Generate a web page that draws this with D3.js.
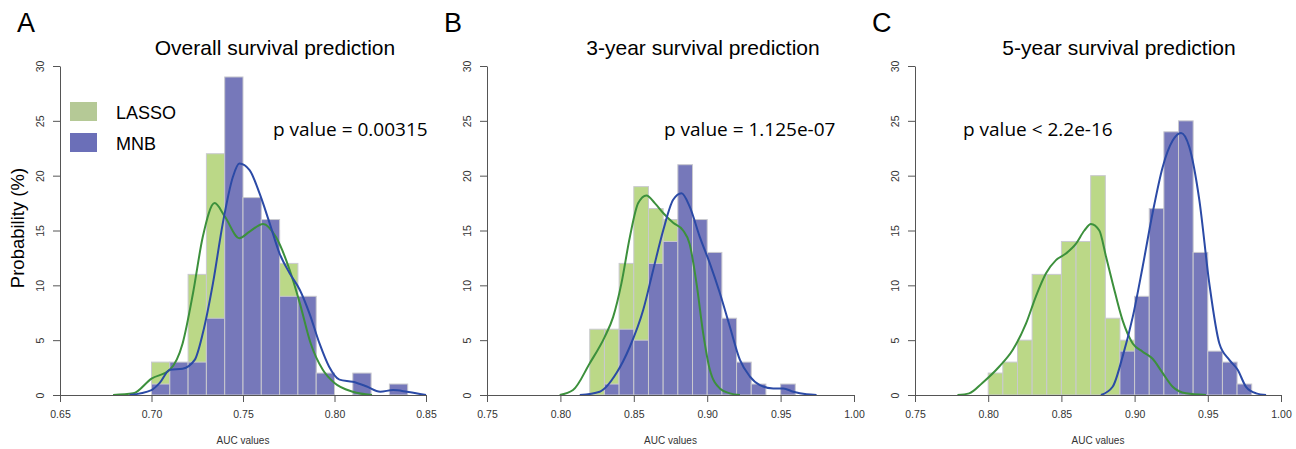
<!DOCTYPE html>
<html><head><meta charset="utf-8">
<script src="https://cdn.jsdelivr.net/npm/d3@7"></script>
<style>body{margin:0;background:#fff}svg{display:block}</style>
</head><body>
<svg id="c" width="1296" height="449"></svg>
<script>
// ---------- data ----------
const panelLetters = ["A", "B", "C"];
const titles = ["Overall survival prediction", "3-year survival prediction", "5-year survival prediction"];
const pTexts = ["p value = 0.00315", "p value = 1.125e-07", "p value < 2.2e-16"];
const seriesNames = ["LASSO", "MNB"];
const yTicks = [0, 5, 10, 15, 20, 25, 30];
const xTicksA = [0.65, 0.70, 0.75, 0.80, 0.85];
const xTicksBC = [0.75, 0.80, 0.85, 0.90, 0.95, 1.00];
const binWidth = 0.01;

// Panel A histogram (bins start at 0.70)
const binStartA = 0.70;
const lassoA = [3, 2, 11, 22, 14, 15, 15, 12, 5, 1, 0, 0, 0, 0];
const mnbA   = [1, 3, 3, 7, 29, 18, 16, 9, 9, 2, 0, 2, 0, 1];
// Panel B histogram (bins start at 0.82)
const binStartB = 0.82;
const lassoB = [6, 6, 12, 19, 17, 16, 13, 8, 3, 0, 0, 0, 0, 0];
const mnbB   = [0, 1, 6, 5, 12, 14, 21, 16, 13, 7, 3, 1, 0, 1];
// Panel C histogram (bins start at 0.80)
const binStartC = 0.80;
const lassoC = [2, 3, 5, 11, 11, 14, 14, 20, 7, 5, 4, 3, 1, 0, 0, 0, 0, 0];
const mnbC   = [0, 0, 0, 0, 0, 0, 0, 0, 0, 4, 9, 17, 24, 25, 13, 4, 3, 1];

// density curves: [x, y(%)]
const lassoDensA = [[0.679,0],[0.690,0.15],[0.700,1.5],[0.710,2.3],[0.717,4.7],[0.7227,9.3],[0.728,14.4],[0.7345,17.5],[0.740,16.3],[0.748,14.3],[0.7536,14.9],[0.761,15.6],[0.768,14.4],[0.7755,11.4],[0.781,8.4],[0.787,4.7],[0.7936,2.3],[0.800,1.1],[0.810,0.3],[0.8205,0]];
const mnbDensA = [[0.688,0],[0.700,0.45],[0.7045,1.1],[0.710,2.3],[0.717,2.4],[0.7236,3.2],[0.728,5.6],[0.7336,10.2],[0.739,15.7],[0.7445,19.9],[0.748,21.1],[0.7536,20.5],[0.759,18.4],[0.7645,15.7],[0.770,12.9],[0.7755,11.1],[0.781,9.6],[0.7864,7.4],[0.7918,4.7],[0.797,2.6],[0.8027,1.4],[0.810,1.2],[0.8173,0.8],[0.825,0.3],[0.832,0.45],[0.8395,0.3],[0.850,0]];
const lassoDensB = [[0.7995,0],[0.8086,0.45],[0.820,2.9],[0.8302,5.3],[0.8359,7.1],[0.8416,10.2],[0.8473,14.4],[0.853,17.5],[0.8586,18.2],[0.8643,17.5],[0.870,16.6],[0.8768,15.7],[0.8836,15.0],[0.888,13.8],[0.8927,10.2],[0.8973,5.6],[0.9018,2.3],[0.9086,0.6],[0.9155,0.15],[0.9223,0]];
const mnbDensB = [[0.8132,0],[0.8268,0.3],[0.8382,2.0],[0.8473,4.4],[0.8564,7.75],[0.8632,11.4],[0.870,15.0],[0.8768,17.8],[0.8825,18.4],[0.888,17.2],[0.895,14.4],[0.9018,12.0],[0.9086,9.3],[0.9155,6.2],[0.9223,3.2],[0.929,1.7],[0.9359,0.9],[0.945,0.6],[0.9518,0.6],[0.9586,0.3],[0.9677,0.06],[0.9745,0]];
const lassoDensC = [[0.779,0],[0.787,0.15],[0.796,1.1],[0.8076,2.6],[0.8167,4.1],[0.8258,6.5],[0.8326,9.0],[0.8395,11.1],[0.8463,12.3],[0.8531,12.9],[0.860,13.8],[0.8657,15.0],[0.8702,15.6],[0.8759,15.0],[0.8805,12.6],[0.885,10.2],[0.8918,6.8],[0.8987,4.7],[0.9055,3.95],[0.9123,3.3],[0.9192,2.0],[0.926,0.75],[0.9351,0.15],[0.9488,0]];
const mnbDensC = [[0.877,0],[0.885,0.75],[0.8918,3.5],[0.8987,7.1],[0.9055,11.7],[0.9123,16.6],[0.9192,20.8],[0.926,23.2],[0.9317,23.9],[0.9374,22.6],[0.9442,17.8],[0.951,10.2],[0.9579,4.7],[0.9647,3.2],[0.9704,2.3],[0.9761,0.75],[0.983,0.15],[0.9898,0]];

// ---------- drawing ----------
const panels = [
  {domain:[0.65,0.85], ticks:xTicksA, start:binStartA, lasso:lassoA, mnb:mnbA, dl:lassoDensA, dm:mnbDensA, x0:60, x1:426, letterX:17, titleX:275, pX:273, legend:true},
  {domain:[0.75,1.00], ticks:xTicksBC, start:binStartB, lasso:lassoB, mnb:mnbB, dl:lassoDensB, dm:mnbDensB, x0:487, x1:854, letterX:444, titleX:703, pX:664, legend:false},
  {domain:[0.75,1.00], ticks:xTicksBC, start:binStartC, lasso:lassoC, mnb:mnbC, dl:lassoDensC, dm:mnbDensC, x0:915, x1:1281, letterX:872, titleX:1119, pX:963, legend:false}
];
const colLassoBar = "#bbd887", colMnbBar = "#7678ba";
const colLassoLeg = "#b5c996", colMnbLeg = "#6b6fb8";
const colLassoLine = "#3c903c", colMnbLine = "#2b4aa6";
const axisCol = "#555";
const svg = d3.select("#c");
const yTop = 66, yBot = 395;
const sans = "Liberation Sans, Arial, sans-serif";

panels.forEach((p, i) => {
  const x = d3.scaleLinear().domain(p.domain).range([p.x0, p.x1]);
  const y = d3.scaleLinear().domain([0, 30]).range([yBot, yTop]);
  const g = svg.append("g");

  // bars
  const drawBars = (vals, color) => {
    g.append("g").selectAll("rect")
      .data(vals.map((v, k) => ({v, a: p.start + k * binWidth})).filter(d => d.v > 0))
      .join("rect")
      .attr("x", d => x(d.a))
      .attr("width", d => x(d.a + binWidth) - x(d.a))
      .attr("y", d => y(d.v))
      .attr("height", d => y(0) - y(d.v))
      .attr("fill", color)
      .attr("stroke", "#c9c9cf")
      .attr("stroke-width", 1);
  };
  drawBars(p.lasso, colLassoBar);
  drawBars(p.mnb, colMnbBar);

  // density lines
  const line = d3.line().x(d => x(d[0])).y(d => y(d[1])).curve(d3.curveMonotoneX);
  g.append("path").datum(p.dl).attr("d", line).attr("fill", "none").attr("stroke", colLassoLine).attr("stroke-width", 2);
  g.append("path").datum(p.dm).attr("d", line).attr("fill", "none").attr("stroke", colMnbLine).attr("stroke-width", 2);

  // x axis
  const xa = g.append("g").attr("transform", `translate(0,${yBot})`)
    .call(d3.axisBottom(x).tickValues(p.ticks).tickFormat(d3.format(".2f")).tickSize(7).tickSizeOuter(0));
  xa.select(".domain").attr("stroke", axisCol);
  xa.selectAll(".tick line").attr("stroke", axisCol);
  xa.selectAll("text").attr("font-family", sans).attr("font-size", 10.5).attr("fill", "#333").attr("dy", "1.25em");

  // y axis
  const ya = g.append("g").attr("transform", `translate(${p.x0},0)`)
    .call(d3.axisLeft(y).tickValues(yTicks).tickSize(7).tickSizeOuter(0));
  ya.select(".domain").attr("stroke", axisCol);
  ya.selectAll(".tick line").attr("stroke", axisCol);
  ya.selectAll("text").attr("font-family", sans).attr("font-size", 10.5).attr("fill", "#333")
    .attr("x", null).attr("dy", null).attr("text-anchor", "middle")
    .attr("transform", "translate(-16,0) rotate(-90)");

  // x label
  g.append("text").attr("x", (p.x0 + p.x1) / 2).attr("y", 444).attr("text-anchor", "middle")
    .attr("font-family", sans).attr("font-size", 10).attr("fill", "#333").text("AUC values");

  // panel letter
  g.append("text").attr("x", p.letterX).attr("y", 32).attr("font-family", sans)
    .attr("font-size", 27).attr("fill", "#000").text(panelLetters[i]);
  // title
  g.append("text").attr("x", p.titleX).attr("y", 55).attr("text-anchor", "middle")
    .attr("font-family", sans).attr("font-size", 21).attr("fill", "#000").text(titles[i]);
  // p value
  g.append("text").attr("x", p.pX).attr("y", 136)
    .attr("font-family", "Open Sans, Noto Sans, sans-serif").attr("font-size", 19).attr("fill", "#000").text(pTexts[i]);

  if (p.legend) {
    const legCols = [colLassoLeg, colMnbLeg];
    seriesNames.forEach((n, k) => {
      const ly = 102 + k * 31;
      g.append("rect").attr("x", 70).attr("y", ly).attr("width", 27).attr("height", 19).attr("fill", legCols[k]);
      g.append("text").attr("x", 116).attr("y", ly + 16.5).attr("font-family", sans)
        .attr("font-size", 18).attr("fill", "#000").text(n);
    });
  }
});

// y label
svg.append("text").attr("transform", "translate(24,228) rotate(-90)").attr("text-anchor", "middle")
  .attr("font-family", sans).attr("font-size", 18.5).attr("fill", "#000").text("Probability (%)");
</script>
</body></html>
